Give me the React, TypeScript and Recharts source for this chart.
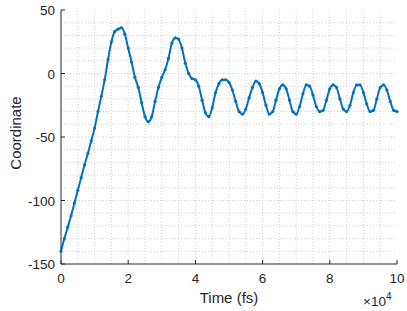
import React from 'react';
import { LineChart, Line, XAxis, YAxis, ReferenceLine, Label } from 'recharts';

// time in fs
const timeFs = [
  0, 1000, 2000, 3000, 4000, 5000, 6000, 7000, 8000, 9000,
  10000, 11000, 12000, 13000, 14000, 15000, 16000, 17000, 18000, 19000,
  20000, 21000, 22000, 23000, 24000, 25000, 26000, 27000, 28000, 29000,
  30000, 31000, 32000, 33000, 34000, 35000, 36000, 37000, 38000, 39000,
  40000, 41000, 42000, 43000, 44000, 45000, 46000, 47000, 48000, 49000,
  50000, 51000, 52000, 53000, 54000, 55000, 56000, 57000, 58000, 59000,
  60000, 61000, 62000, 63000, 64000, 65000, 66000, 67000, 68000, 69000,
  70000, 71000, 72000, 73000, 74000, 75000, 76000, 77000, 78000, 79000,
  80000, 81000, 82000, 83000, 84000, 85000, 86000, 87000, 88000, 89000,
  90000, 91000, 92000, 93000, 94000, 95000, 96000, 97000, 98000, 99000,
  100000,
];

const coordinate = [
  -140, -130, -121, -112, -102, -92, -82, -72, -63, -53,
  -43, -30, -18, -5, 11, 25, 33, 35, 36, 31,
  20, 9, -3, -11, -23, -34, -38, -34, -22, -11,
  -3, 3, 12, 24, 28, 27, 20, 8, 0, -4,
  -5, -10, -21, -31, -34, -27, -15, -8, -5, -5,
  -7, -13, -22, -30, -32, -28, -19, -11, -6, -8,
  -15, -25, -32, -30, -21, -12, -9, -12, -21, -30,
  -32, -26, -16, -9, -10, -17, -26, -30, -29, -21,
  -12, -9, -11, -20, -28, -30, -25, -15, -9, -9,
  -15, -24, -30, -29, -20, -11, -9, -13, -22, -29,
  -30,
];

const xTicks = [0, 20000, 40000, 60000, 80000, 100000];
const yTicks = [-150, -100, -50, 0, 50];
const xGrid = [
  5000, 10000, 15000, 20000, 25000, 30000, 35000, 40000, 45000, 50000,
  55000, 60000, 65000, 70000, 75000, 80000, 85000, 90000, 95000,
];
const yGrid = [
  -140, -130, -120, -110, -100, -90, -80, -70, -60, -50,
  -40, -30, -20, -10, 0, 10, 20, 30, 40,
];

const data = timeFs.map((t, i) => ({ t, v: coordinate[i] }));

const AX = '#262626';
const FONT = '"Liberation Sans", Arial, Helvetica, sans-serif';
const TICK_FS = 13.5;
const LABEL_FS = 15;
const TL = 4;

const BottomTick = (p: any) => {
  const { x, y, payload } = p;
  return (
    <g>
      <line x1={x} y1={y} x2={x} y2={y - TL} stroke={AX} strokeWidth={1} />
      <text x={x} y={y + 19} textAnchor="middle" fontSize={TICK_FS} fill={AX} fontFamily={FONT}>
        {payload.value / 10000}
      </text>
    </g>
  );
};
const TopTick = (p: any) => {
  const { x, y } = p;
  return <line x1={x} y1={y} x2={x} y2={y + TL} stroke={AX} strokeWidth={1} />;
};
const LeftTick = (p: any) => {
  const { x, y, payload } = p;
  return (
    <g>
      <line x1={x} y1={y} x2={x + TL} y2={y} stroke={AX} strokeWidth={1} />
      <text x={x - 6} y={y + 5} textAnchor="end" fontSize={TICK_FS} fill={AX} fontFamily={FONT}>
        {payload.value}
      </text>
    </g>
  );
};
const RightTick = (p: any) => {
  const { x, y } = p;
  return <line x1={x} y1={y} x2={x - TL} y2={y} stroke={AX} strokeWidth={1} />;
};

export default function App() {
  return (
    <div style={{ position: 'absolute', left: 0, top: 0, width: 407, height: 311, background: '#fff' }}>
      <LineChart width={407} height={311} data={data} margin={{ top: 10, right: 10, left: 0, bottom: 0 }}>
        <XAxis
          dataKey="t"
          type="number"
          domain={[0, 100000]}
          ticks={xTicks}
          interval={0}
          height={47}
          tickSize={0}
          tickMargin={0}
          tickLine={false}
          axisLine={{ stroke: AX }}
          tick={<BottomTick />}
        >
          <Label
            content={(props: any) => {
              const vb = props.viewBox;
              return (
                <text x={vb.x + vb.width / 2} y={vb.y + 39} textAnchor="middle" fontSize={LABEL_FS} fill={AX} fontFamily={FONT}>
                  Time (fs)
                </text>
              );
            }}
          />
          <Label
            content={(props: any) => {
              const vb = props.viewBox;
              return (
                <text x={vb.x + vb.width - 34} y={vb.y + 42} fontSize={TICK_FS} fill={AX} fontFamily={FONT}>
                  ×10
                  <tspan dy={-6} fontSize={10}>4</tspan>
                </text>
              );
            }}
          />
        </XAxis>
        <XAxis
          xAxisId="top"
          orientation="top"
          type="number"
          dataKey="t"
          domain={[0, 100000]}
          ticks={xTicks}
          interval={0}
          height={0}
          tickSize={0}
          tickMargin={0}
          tickLine={false}
          axisLine={{ stroke: AX }}
          tick={<TopTick />}
        />
        <YAxis
          type="number"
          domain={[-150, 50]}
          ticks={yTicks}
          interval={0}
          width={61}
          tickSize={0}
          tickMargin={0}
          tickLine={false}
          axisLine={{ stroke: AX }}
          tick={<LeftTick />}
        >
          <Label
            content={(props: any) => {
              const vb = props.viewBox;
              const cx = 15;
              const cy = vb.y + vb.height / 2 - 4;
              return (
                <text x={cx} y={cy} textAnchor="middle" dominantBaseline="central" fontSize={LABEL_FS} fill={AX} fontFamily={FONT} transform={`rotate(-90 ${cx} ${cy})`}>
                  Coordinate
                </text>
              );
            }}
          />
        </YAxis>
        <YAxis
          yAxisId="right"
          orientation="right"
          type="number"
          domain={[-150, 50]}
          ticks={yTicks}
          interval={0}
          width={0}
          tickSize={0}
          tickMargin={0}
          tickLine={false}
          axisLine={{ stroke: AX }}
          tick={<RightTick />}
        />
        {xGrid.map((g) => (
          <ReferenceLine key={'x' + g} x={g} stroke="#cfcfcf" strokeDasharray="1 2" strokeWidth={1} />
        ))}
        {yGrid.map((g) => (
          <ReferenceLine key={'y' + g} y={g} stroke="#cfcfcf" strokeDasharray="1 2" strokeWidth={1} />
        ))}
        <Line
          type="monotone"
          dataKey="v"
          stroke="#0072BD"
          strokeWidth={2}
          dot={{ r: 1.6, fill: '#0072BD', stroke: 'none' }}
          isAnimationActive={false}
        />
      </LineChart>
    </div>
  );
}
